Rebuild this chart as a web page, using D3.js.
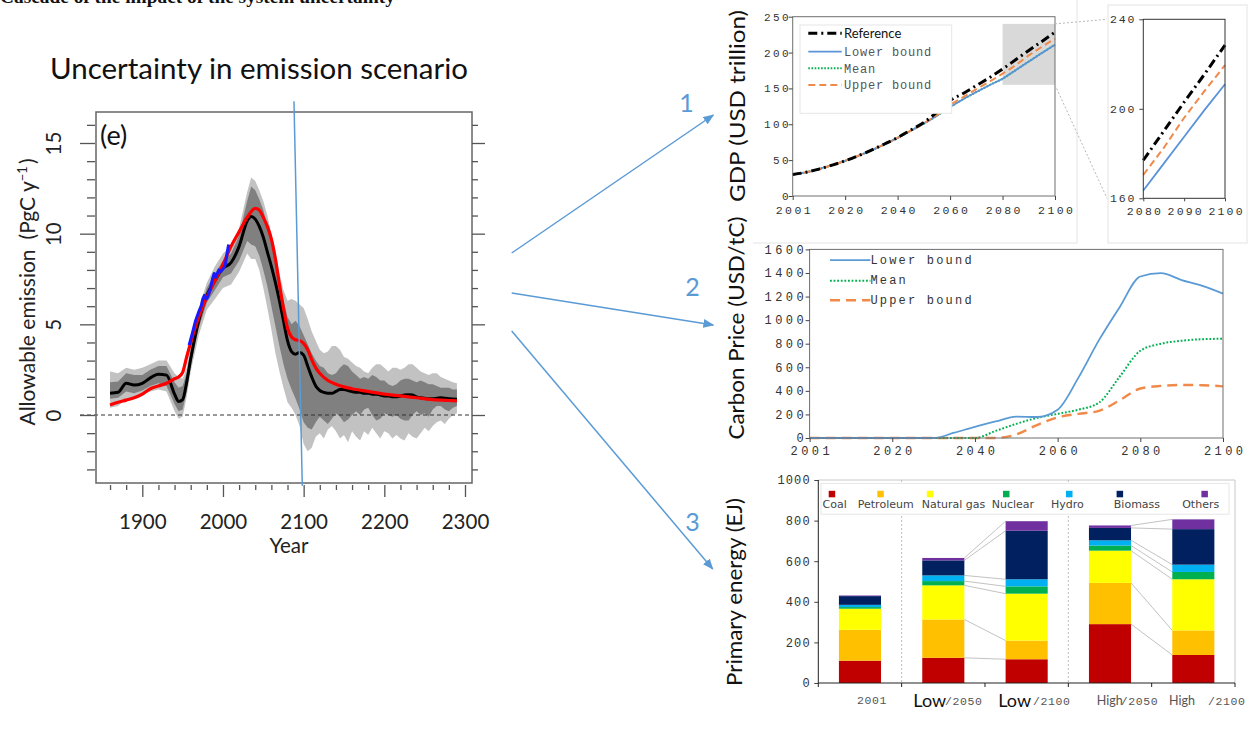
<!DOCTYPE html>
<html>
<head>
<meta charset="utf-8">
<title>Uncertainty in emission scenario</title>
<script src="https://cdn.jsdelivr.net/npm/d3@7/dist/d3.min.js"></script>
<style>
  html, body { margin: 0; padding: 0; background: #fff; }
  svg { display: block; }
</style>
</head>
<body>
<svg id="fig" width="1256" height="740" xmlns="http://www.w3.org/2000/svg"></svg>
<script>
// ---------- Panel (e): allowable emission (PgC/yr) ----------
const bandYears = [1860,1870,1880,1890,1900,1910,1920,1930,1940,1945,1950,1955,1960,1970,1980,1990,2000,2010,2020,2030,
  2035,2040,2045,2050,2055,2060,2065,2070,2075,2080,2085,2090,2095,2100,2105,2110,2115,2120,2125,2130,
  2135,2140,2145,2150,2155,2160,2165,2170,2175,2180,2185,2190,2195,2200,2205,2210,2215,2220,2225,2230,
  2235,2240,2245,2250,2255,2260,2265,2270,2275,2280,2285,2290];
const lightLo = [0.4,0.5,0.9,0.9,1.1,1.3,1.4,1.3,0.2,-0.2,-0.1,1.0,2.4,4.4,5.8,6.4,7.0,7.2,7.9,8.9,
  8.6,8.6,8.0,7.0,5.9,4.7,3.4,2.4,1.5,0.7,0.4,0.0,-0.6,-1.6,-2.0,-1.8,-1.2,-1.0,-1.3,-0.8,
  -0.6,-0.9,-1.3,-1.1,-1.5,-0.9,-1.2,-1.4,-0.9,-1.1,-0.7,-1.0,-1.3,-0.9,-1.0,-1.3,-1.1,-1.3,-1.4,-1.0,
  -1.2,-1.3,-1.0,-0.7,-0.9,-0.6,-0.4,-0.3,-0.5,-0.2,0.0,0.1];
const darkLo = [0.9,0.95,1.3,1.2,1.35,1.6,1.75,1.6,0.6,0.2,0.3,1.3,2.7,4.8,6.2,6.9,7.6,7.8,8.5,9.6,
  9.4,9.3,8.8,8.0,7.1,6.0,4.9,3.8,2.8,2.0,1.4,0.9,0.3,-0.4,-0.7,-0.8,-0.4,-0.1,-0.3,-0.5,
  -0.2,0.1,-0.1,-0.4,-0.25,0.0,0.2,0.0,0.3,0.4,0.0,-0.3,-0.2,0.1,0.0,-0.1,0.0,-0.2,-0.3,-0.3,
  0.0,0.2,0.0,0.1,-0.1,0.3,0.5,0.5,0.3,0.2,0.4,0.5];
const darkHi = [1.8,1.85,2.3,2.2,2.2,2.5,2.7,2.7,1.8,1.5,1.6,2.3,3.5,5.6,7.0,7.8,8.5,8.9,9.9,11.8,
  12.6,12.4,11.9,11.3,10.4,9.4,8.6,7.4,6.3,5.4,5.0,5.2,4.9,4.4,3.9,3.4,3.0,2.7,2.6,2.3,
  2.2,2.3,2.6,2.8,2.7,2.4,2.2,2.0,2.1,2.0,2.2,2.1,1.9,1.9,1.7,1.6,1.7,1.9,2.0,2.0,
  1.9,1.8,1.9,1.8,1.7,1.7,1.6,1.5,1.5,1.5,1.4,1.4];
const lightHi = [2.4,2.3,2.6,2.5,2.6,2.8,3.0,3.0,2.3,2.1,2.0,2.6,3.8,5.9,7.3,8.2,8.9,9.3,10.3,12.3,
  13.1,12.9,12.4,11.8,11.0,10.0,9.1,7.8,6.9,6.3,6.4,6.3,6.1,5.9,5.3,4.6,4.1,3.6,3.4,3.5,
  3.8,3.8,3.6,3.2,3.1,2.9,2.7,2.6,2.4,2.3,2.6,2.8,2.8,2.6,2.4,2.6,2.6,2.5,2.6,2.8,
  2.8,2.6,2.4,2.3,2.2,2.3,2.3,2.1,2.0,1.9,1.8,1.75];
const meanEmission = [1.2,1.25,1.75,1.65,1.75,2.05,2.25,2.2,1.15,0.75,0.85,1.8,3.1,5.2,6.6,7.4,8.1,8.4,9.3,10.7,
  10.95,10.8,10.4,9.8,9.0,8.2,7.3,6.3,5.2,4.1,3.5,3.35,3.45,3.3,2.7,2.1,1.6,1.35,1.25,1.2,
  1.2,1.3,1.4,1.4,1.35,1.3,1.25,1.25,1.2,1.2,1.15,1.15,1.1,1.05,1.05,1.0,1.0,1.05,1.1,1.12,
  1.1,1.0,0.95,0.92,0.9,0.9,0.92,0.95,0.92,0.9,0.88,0.87];
const scenarioYears = [1860,1870,1880,1890,1900,1910,1920,1930,1940,1945,1950,1955,1960,1970,1980,1990,2000,2010,2020,2030,
  2040,2045,2050,2055,2060,2065,2070,2075,2080,2085,2090,2095,2100,2105,2110,2115,2120,2130,2140,2150,
  2160,2180,2200,2220,2240,2260,2280,2290];
const scenarioEmission = [0.55,0.7,0.82,0.95,1.15,1.45,1.6,1.75,2.0,2.1,2.35,3.2,4.0,5.4,6.5,7.4,8.3,9.3,10.1,10.9,
  11.4,11.3,10.9,10.4,9.7,8.6,7.2,5.9,4.8,4.3,4.15,4.1,3.95,3.6,3.05,2.6,2.3,1.9,1.7,1.55,
  1.45,1.3,1.15,1.05,0.95,0.85,0.8,0.78];
const observedYears = [1958,1962,1966,1970,1973,1975,1977,1979,1981,1984,1987,1989,1991,1993,1995,1997,1999,2001,2003,2005,2007];
const observedEmission = [3.85,4.5,5.2,5.7,6.0,6.4,6.6,6.4,6.5,6.9,7.5,7.8,7.6,7.8,8.0,7.9,8.0,8.1,8.3,8.9,9.4];
const emisXTicks = [1900, 2000, 2100, 2200, 2300];
const emisYTicks = [0, 5, 10, 15];
const guideLine = [[2088, 17.3], [2098.3, -3.9]];

// ---------- Panel 1: GDP (USD trillion) ----------
const periods = ["2001","2005","2010","2015","2020","2025","2030","2035","2040","2045","2050",
  "2055","2060","2065","2070","2075","2080","2085","2090","2095","2100"];
const periodLabels = ["2001","2020","2040","2060","2080","2100"];
const gdpReference = [30,33,37.5,43,49,56,64,72.5,81.5,92,102.5,117,133,143,154,165,177,190,203,215.5,228.5];
const gdpLower     = [30,33,37.5,43,49,56,63.5,72,81,91,101,112,124,135,145,154.5,163.5,175.5,187.5,199.5,211];
const gdpMean      = [30,33,37.5,43,49,56,63.5,72,81,91,101,112,124,135,145,154.5,163.5,175.5,187.5,199.5,211];
const gdpUpper     = [30,33,37.5,43,49,56,63.5,72,81,91,101.5,113,127,138,149,159.5,170.5,182.5,196,208,219.5];
const gdpTicks = [0, 50, 100, 150, 200, 250];
const zoomPeriods = ["2080","2085","2090","2095","2100"];
const zoomLabels = ["2080","2090","2100"];
const zoomWindow = [155, 240];
const zoomTicks = [160, 200, 240];

// ---------- Panel 2: carbon price (USD/tC) ----------
const carbonLower = [0,0,0,0,0,0,0,45,95,140,182,178,240,510,830,1110,1370,1398,1340,1290,1225];
const carbonMean  = [0,0,0,0,0,0,0,0,0,60,120,170,205,240,300,520,740,800,825,838,842];
const carbonUpper = [0,0,0,0,0,0,0,0,0,0,30,110,175,205,230,320,420,442,450,448,438];
const carbonTicks = [0,200,400,600,800,1000,1200,1400,1600];

// ---------- Panel 3: primary energy (EJ) ----------
const energyCases = ["2001","Low/2050","Low/2100","High/2050","High/2100"];
const fuels = ["Coal","Petroleum","Natural gas","Nuclear","Hydro","Biomass","Others"];
const fuelColors = ["#c00000","#ffc000","#ffff00","#00b050","#00b0f0","#002060","#7030a0"];
const coal       = [110,124,117,290,138];
const petroleum  = [152,189,92,203,121];
const naturalGas = [104,168,231,159,252];
const nuclear    = [8,21,36,25,36];
const hydro      = [11,28,35,26,36];
const biomass    = [43,74,239,61,175];
const others     = [3,12,47,12,48];
const energyTicks = [0,200,400,600,800,1000];
const caseMain   = ["","Low","Low","High","High"];
const caseSuffix = ["2001","/2050","/2100","/2050","/2100"];

// ---------- drawing ----------
const svg = d3.select("#fig");
const MONO = "'Liberation Mono','DejaVu Sans Mono',monospace";
const SANS = "Lato,'Open Sans','Liberation Sans',sans-serif";
const SERIF = "'Liberation Serif','DejaVu Serif',serif";
const ACCENT = "#5b9bd5";

// heading line running off the top edge
svg.append("text").attr("x", 0).attr("y", 3)
  .attr("font-family", SERIF).attr("font-weight", "bold").attr("font-size", 19).attr("fill", "#111")
  .attr("textLength", 395).attr("lengthAdjust", "spacingAndGlyphs")
  .text("Cascade of the impact of the system uncertainty");

svg.append("text").attr("x", 50).attr("y", 78.5)
  .attr("font-family", SANS).attr("font-size", 29).attr("fill", "#111")
  .attr("textLength", 418).attr("lengthAdjust", "spacingAndGlyphs")
  .text("Uncertainty in emission scenario");

// ===== panel (e) =====
const ex = d3.scaleLinear().domain([1900, 2300]).range([142.3, 465]);
const ey = d3.scaleLinear().domain([0, 15]).range([415, 143]);
const pe = svg.append("g");

const bandRows = bandYears.map((yr, i) => ({ yr, ll: lightLo[i], dl: darkLo[i], dh: darkHi[i], lh: lightHi[i] }));
pe.append("path").datum(bandRows).attr("fill", "#c2c2c2")
  .attr("d", d3.area().x(d => ex(d.yr)).y0(d => ey(d.ll)).y1(d => ey(d.lh)));
pe.append("path").datum(bandRows).attr("fill", "#808080")
  .attr("d", d3.area().x(d => ex(d.yr)).y0(d => ey(d.dl)).y1(d => ey(d.dh)));

pe.append("line").attr("x1", 80).attr("x2", 472).attr("y1", ey(0)).attr("y2", ey(0))
  .attr("stroke", "#333").attr("stroke-width", 1).attr("stroke-dasharray", "4,3");

const eLine = d3.line().x(d => ex(d[0])).y(d => ey(d[1])).curve(d3.curveMonotoneX);
pe.append("path").datum(bandYears.map((y, i) => [y, meanEmission[i]]))
  .attr("d", eLine).attr("fill", "none").attr("stroke", "#000").attr("stroke-width", 3);
pe.append("path").datum(scenarioYears.map((y, i) => [y, scenarioEmission[i]]))
  .attr("d", eLine).attr("fill", "none").attr("stroke", "#ff0000").attr("stroke-width", 3.2);
pe.append("path").datum(observedYears.map((y, i) => [y, observedEmission[i]]))
  .attr("d", d3.line().x(d => ex(d[0])).y(d => ey(d[1]))).attr("fill", "none")
  .attr("stroke", "#1a1aff").attr("stroke-width", 3).attr("stroke-linejoin", "round");

pe.append("rect").attr("x", 96).attr("y", 112).attr("width", 376).attr("height", 371)
  .attr("fill", "none").attr("stroke", "#666").attr("stroke-width", 1.5);

const rTicks = g => {
  g.select(".domain").remove();
  g.selectAll(".tick line").attr("stroke", "#555").attr("stroke-width", 1.3);
  g.selectAll("text").attr("font-family", SANS).attr("font-size", 20.5).attr("fill", "#222");
};
const minorYears = d3.range(1860, 2301, 20).filter(y => y % 100 !== 0);
pe.append("g").attr("transform", "translate(0,485)")
  .call(d3.axisBottom(ex).tickValues(minorYears).tickSize(5).tickFormat("")).call(rTicks);
pe.append("g").attr("transform", "translate(0,485)")
  .call(d3.axisBottom(ex).tickValues(emisXTicks).tickSize(12).tickPadding(17).tickFormat(d3.format("d"))).call(rTicks);

const minorVals = d3.range(-3, 17).filter(v => v % 5 !== 0);
pe.append("g").attr("transform", "translate(95,0)")
  .call(d3.axisLeft(ey).tickValues(minorVals).tickSize(8).tickFormat("")).call(rTicks);
pe.append("g").attr("transform", "translate(95,0)")
  .call(d3.axisLeft(ey).tickValues(emisYTicks).tickSize(15).tickFormat(d3.format("d"))).call(rTicks)
  .call(g => g.selectAll("text").attr("x", 0).attr("dy", null).attr("text-anchor", "middle")
    .attr("transform", "translate(-34,0) rotate(-90)"));
pe.append("g").attr("transform", "translate(472,0)")
  .call(d3.axisRight(ey).tickValues(minorVals).tickSize(6).tickFormat("")).call(rTicks);
pe.append("g").attr("transform", "translate(472,0)")
  .call(d3.axisRight(ey).tickValues(emisYTicks).tickSize(13).tickFormat("")).call(rTicks);

pe.append("text").attr("x", 100).attr("y", 145).attr("font-family", SANS).attr("font-size", 27)
  .attr("fill", "#111").text("(e)");
pe.append("text").attr("x", 289).attr("y", 553).attr("text-anchor", "middle")
  .attr("font-family", SANS).attr("font-size", 20.5).attr("fill", "#222").text("Year");
const yt = pe.append("text").attr("transform", "translate(35,292) rotate(-90)").attr("text-anchor", "middle")
  .attr("font-family", SANS).attr("font-size", 21).attr("fill", "#222");
yt.append("tspan").text("Allowable emission");
yt.append("tspan").attr("dx", 10).text("(PgC  y");
yt.append("tspan").attr("dy", -8).attr("font-size", 13).text("\u22121");
yt.append("tspan").attr("dy", 8).attr("dx", 2).text(")");

pe.append("line")
  .attr("x1", ex(guideLine[0][0])).attr("y1", ey(guideLine[0][1]))
  .attr("x2", ex(guideLine[1][0])).attr("y2", ey(guideLine[1][1]))
  .attr("stroke", ACCENT).attr("stroke-width", 1.5);

// ===== arrows to the three impact panels =====
const defs = svg.append("defs");
defs.append("marker").attr("id", "head").attr("viewBox", "0 0 10 8").attr("refX", 9).attr("refY", 4)
  .attr("markerWidth", 11).attr("markerHeight", 9).attr("markerUnits", "userSpaceOnUse").attr("orient", "auto")
  .append("path").attr("d", "M0,0 L10,4 L0,8 Z").attr("fill", ACCENT);
const arrows = [
  { from: [511.7, 253], to: [713.3, 115], label: "1", at: [686.5, 112] },
  { from: [511.7, 293], to: [713.3, 325], label: "2", at: [692.5, 296] },
  { from: [511.7, 331], to: [712.7, 569], label: "3", at: [692.5, 531] }
];
arrows.forEach(a => {
  svg.append("line").attr("x1", a.from[0]).attr("y1", a.from[1]).attr("x2", a.to[0]).attr("y2", a.to[1])
    .attr("stroke", ACCENT).attr("stroke-width", 1.5).attr("marker-end", "url(#head)");
  svg.append("text").attr("x", a.at[0]).attr("y", a.at[1]).attr("text-anchor", "middle")
    .attr("font-family", SANS).attr("font-size", 25).attr("fill", ACCENT).text(a.label);
});

// shared helpers for the spreadsheet-style panels
const monoTicks = (size, spacing, anchor) => g => {
  g.select(".domain").remove();
  g.selectAll(".tick line").attr("stroke", "#444");
  g.selectAll("text").attr("font-family", MONO).attr("font-size", size).attr("fill", "#333")
    .attr("letter-spacing", spacing).attr("dx", anchor === "end" ? spacing : spacing / 2);
};
const titleV = (x, y, len, txt) => svg.append("text").attr("transform", `translate(${x},${y}) rotate(-90)`)
  .attr("text-anchor", "middle").attr("font-family", SANS).attr("font-size", 21).attr("fill", "#111")
  .attr("textLength", len).attr("lengthAdjust", "spacingAndGlyphs").text(txt);

const seriesStyles = {
  reference: { stroke: "#000", width: 3, dash: "9,4,2,4" },
  lower: { stroke: "#5b93d9", width: 1.8, dash: null },
  mean: { stroke: "#00b050", width: 2, dash: "1.6,1.6" },
  upper: { stroke: "#f08a4b", width: 2, dash: "7,4" }
};
const styled = (sel, s) => sel.attr("fill", "none").attr("stroke", s.stroke).attr("stroke-width", s.width)
  .attr("stroke-dasharray", s.dash);
const intFmt = d3.format("d");

// ===== panel frames =====
svg.append("path").attr("d", "M753,243 H1077 V0").attr("fill", "none").attr("stroke", "#e4e4e4");
svg.append("rect").attr("x", 1108).attr("y", 5).attr("width", 139).attr("height", 238)
  .attr("fill", "none").attr("stroke", "#e4e4e4");

// ===== panel 1: GDP =====
const gx = d3.scalePoint().domain(periods).range([792.7, 1055]);
const gy = d3.scaleLinear().domain([0, 250]).range([196, 16.7]);
const pg = svg.append("g");
pg.append("rect").attr("x", gx(zoomPeriods[0])).attr("y", gy(zoomWindow[1]))
  .attr("width", gx(zoomPeriods[zoomPeriods.length - 1]) - gx(zoomPeriods[0]))
  .attr("height", gy(zoomWindow[0]) - gy(zoomWindow[1])).attr("fill", "#d9d9d9");
const gLine = d3.line().x(d => gx(d[0])).y(d => gy(d[1])).curve(d3.curveMonotoneX);
const rowsOf = (keys, arr) => keys.map((p, i) => [p, arr[i]]);
styled(pg.append("path").datum(rowsOf(periods, gdpMean)).attr("d", gLine), seriesStyles.mean);
styled(pg.append("path").datum(rowsOf(periods, gdpLower)).attr("d", gLine), seriesStyles.lower);
styled(pg.append("path").datum(rowsOf(periods, gdpUpper)).attr("d", gLine), seriesStyles.upper);
styled(pg.append("path").datum(rowsOf(periods, gdpReference)).attr("d", gLine), seriesStyles.reference);
pg.append("rect").attr("x", 792.7).attr("y", 16.7).attr("width", 262.3).attr("height", 179.3)
  .attr("fill", "none").attr("stroke", "#6f6f6f");
pg.append("g").attr("transform", "translate(792.7,0)")
  .call(d3.axisLeft(gy).tickValues(gdpTicks).tickSize(4).tickPadding(0).tickFormat(intFmt)).call(monoTicks(11, 2.4, "end"));
pg.append("g").attr("transform", "translate(0,196)")
  .call(d3.axisBottom(gx).tickValues(periodLabels).tickSize(4).tickPadding(5.5)).call(monoTicks(11.5, 2.4, "middle"));
titleV(745, 106, 192, "GDP (USD trillion)");

// legend
pg.append("rect").attr("x", 800).attr("y", 25).attr("width", 151.7).attr("height", 88.3)
  .attr("fill", "#fff").attr("stroke", "#e6e6e6");
const gdpLegend = [
  { name: "Reference", s: seriesStyles.reference, y: 33.3, sans: true },
  { name: "Lower bound", s: seriesStyles.lower, y: 51.7 },
  { name: "Mean", s: seriesStyles.mean, y: 68.3 },
  { name: "Upper bound", s: seriesStyles.upper, y: 85 }
];
gdpLegend.forEach(l => {
  styled(pg.append("line").attr("x1", 808.3).attr("x2", 841.7).attr("y1", l.y).attr("y2", l.y), l.s);
  pg.append("text").attr("x", 844).attr("y", l.y + 4.2)
    .attr("font-family", l.sans ? SANS : MONO).attr("font-size", l.sans ? 13 : 12)
    .attr("letter-spacing", l.sans ? 0 : 0.8).attr("fill", l.sans ? "#111" : "#555").text(l.name);
});

// zoom-in of 2080-2100
const zx = d3.scalePoint().domain(zoomPeriods).range([1143.3, 1225]);
const zy = d3.scaleLinear().domain([160, 240]).range([198.3, 19.3]);
const pz = svg.append("g");
const zLine = d3.line().x(d => zx(d[0])).y(d => zy(d[1]));
const zRows = arr => rowsOf(periods, arr).filter(d => zoomPeriods.includes(d[0]));
styled(pz.append("path").datum(zRows(gdpLower)).attr("d", zLine), seriesStyles.lower);
styled(pz.append("path").datum(zRows(gdpUpper)).attr("d", zLine), seriesStyles.upper);
styled(pz.append("path").datum(zRows(gdpReference)).attr("d", zLine), seriesStyles.reference);
pz.append("rect").attr("x", 1143.3).attr("y", 19.3).attr("width", 81.7).attr("height", 179)
  .attr("fill", "none").attr("stroke", "#333");
pz.append("g").attr("transform", "translate(1143.3,0)")
  .call(d3.axisLeft(zy).tickValues(zoomTicks).tickSize(4).tickPadding(5)).call(monoTicks(11.5, 1.8, "end"));
pz.append("g").attr("transform", "translate(0,198.3)")
  .call(d3.axisBottom(zx).tickValues(zoomLabels).tickSize(3).tickPadding(5.5)).call(monoTicks(11.5, 2.2, "middle"));
// connectors from the shaded window to the zoom panel
[[zoomWindow[1], 240], [zoomWindow[0], 160]].forEach(([gv, zv]) => {
  svg.append("line").attr("x1", gx(zoomPeriods[zoomPeriods.length - 1])).attr("y1", gy(gv))
    .attr("x2", 1107).attr("y2", zy(zv)).attr("stroke", "#b8b8b8").attr("stroke-dasharray", "2,2");
});

// ===== panel 2: carbon price =====
const cx = d3.scalePoint().domain(periods).range([809.6, 1223]);
const cy = d3.scaleLinear().domain([0, 1600]).range([438, 249.4]);
const pc = svg.append("g");
const cLine = d3.line().x(d => cx(d[0])).y(d => cy(d[1])).curve(d3.curveMonotoneX);
const carbonStyles = {
  lower: { stroke: "#5b9bd5", width: 1.8, dash: null },
  mean: { stroke: "#00b050", width: 2, dash: "1.8,1.8" },
  upper: { stroke: "#f08a4b", width: 2.4, dash: "10,6" }
};
styled(pc.append("path").datum(rowsOf(periods, carbonUpper)).attr("d", cLine), carbonStyles.upper);
styled(pc.append("path").datum(rowsOf(periods, carbonMean)).attr("d", cLine), carbonStyles.mean);
styled(pc.append("path").datum(rowsOf(periods, carbonLower)).attr("d", cLine), carbonStyles.lower);
pc.append("rect").attr("x", 809.6).attr("y", 249.4).attr("width", 413.4).attr("height", 188.6)
  .attr("fill", "none").attr("stroke", "#6f6f6f");
pc.append("g").attr("transform", "translate(809.6,0)")
  .call(d3.axisLeft(cy).tickValues(carbonTicks).tickSize(4).tickPadding(2).tickFormat(intFmt)).call(monoTicks(12, 3.4, "end"));
pc.append("g").attr("transform", "translate(0,438)")
  .call(d3.axisBottom(cx).tickValues(periodLabels).tickSize(4).tickPadding(4.3)).call(monoTicks(12, 3.4, "middle"));
titleV(744, 328, 223, "Carbon Price (USD/tC)");
const carbonLegend = [
  { name: "Lower bound", s: carbonStyles.lower, y: 260.1 },
  { name: "Mean", s: carbonStyles.mean, y: 280.8 },
  { name: "Upper bound", s: carbonStyles.upper, y: 300.2 }
];
carbonLegend.forEach(l => {
  styled(pc.append("line").attr("x1", 830).attr("x2", 870.4).attr("y1", l.y).attr("y2", l.y), l.s);
  pc.append("text").attr("x", 870.4).attr("y", l.y + 3.5).attr("font-family", MONO).attr("font-size", 12)
    .attr("letter-spacing", 2.2).attr("fill", "#333").text(l.name);
});

// ===== panel 3: primary energy =====
const bx = d3.scaleBand().domain(energyCases).range([818.3, 1235]);
const by = d3.scaleLinear().domain([0, 1000]).range([683, 480]);
const pb = svg.append("g");
const energyRows = energyCases.map((c, i) => ({
  case: c, "Coal": coal[i], "Petroleum": petroleum[i], "Natural gas": naturalGas[i],
  "Nuclear": nuclear[i], "Hydro": hydro[i], "Biomass": biomass[i], "Others": others[i]
}));
const stacked = d3.stack().keys(fuels)(energyRows);
const barW = bx.bandwidth() * 0.505;
const barOff = (bx.bandwidth() - barW) / 2;

// separators between the base year, low and high cases
[energyCases[1], energyCases[3]].forEach(c => {
  pb.append("line").attr("x1", bx(c)).attr("x2", bx(c)).attr("y1", by(1000)).attr("y2", by(0))
    .attr("stroke", "#bdbdbd").attr("stroke-dasharray", "2,2");
});
// links between 2050 and 2100 stacks
[[1, 2], [3, 4]].forEach(([a, b]) => {
  stacked.forEach(layer => {
    pb.append("line")
      .attr("x1", bx(energyCases[a]) + barOff + barW).attr("y1", by(layer[a][1]))
      .attr("x2", bx(energyCases[b]) + barOff).attr("y2", by(layer[b][1]))
      .attr("stroke", "#b3b3b3").attr("stroke-width", 0.8);
  });
});
pb.selectAll("g.layer").data(stacked).join("g").attr("class", "layer")
  .attr("fill", (d, i) => fuelColors[i])
  .selectAll("rect").data(d => d).join("rect")
  .attr("x", d => bx(d.data.case) + barOff).attr("width", barW)
  .attr("y", d => by(d[1])).attr("height", d => by(d[0]) - by(d[1]));

pb.append("path").attr("d", `M${818.3},${by(1000)} H1235 V${by(0)}`).attr("fill", "none").attr("stroke", "#c8c8c8");
pb.append("g").attr("transform", "translate(818.3,0)")
  .call(d3.axisLeft(by).tickValues(energyTicks).tickSize(4).tickPadding(4.7).tickFormat(intFmt)).call(monoTicks(12, 1.1, "end"))
  .call(g => g.append("line").attr("y1", by(0)).attr("y2", by(1000)).attr("stroke", "#222"));
pb.append("line").attr("x1", 818.3).attr("x2", 1235).attr("y1", by(0)).attr("y2", by(0)).attr("stroke", "#222");
pb.selectAll("line.ctick").data(energyCases.map(c => bx(c)).concat([bx.range()[1]])).join("line")
  .attr("class", "ctick").attr("x1", d => d).attr("x2", d => d).attr("y1", by(0)).attr("y2", by(0) + 4)
  .attr("stroke", "#222");

// category labels
const labelLayout = [[null, 38.7], [11.7, 43.4], [13.3, 48], [28.4, 52.4], [17.3, 56.3]];
energyCases.forEach((c, i) => {
  const x0 = bx(c);
  const [mOff, sOff] = labelLayout[i];
  if (caseMain[i]) {
    const low = caseMain[i] === "Low";
    pb.append("text").attr("x", x0 + mOff).attr("y", low ? 707 : 705)
      .attr("font-family", SANS).attr("font-size", low ? 18 : 12.5).attr("fill", low ? "#111" : "#555")
      .text(caseMain[i]);
  }
  pb.append("text").attr("x", x0 + sOff).attr("y", i === 0 ? 704 : 705)
    .attr("font-family", MONO).attr("font-size", 11.5).attr("letter-spacing", 0.6).attr("fill", "#555")
    .text(caseSuffix[i]);
});
titleV(742, 592, 188, "Primary energy (EJ)");

// legend
pb.append("rect").attr("x", 821).attr("y", 483.4).attr("width", 408).attr("height", 30.8)
  .attr("fill", "#fff").attr("stroke", "#e6e6e6");
const legendSwatchX = [828.7, 877.3, 926.8, 1003, 1066, 1116.6, 1201.4];
const legendLabelX  = [822.6, 857.8, 921.7, 991.8, 1051, 1113.8, 1182.2];
fuels.forEach((f, i) => {
  pb.append("rect").attr("x", legendSwatchX[i]).attr("y", 490.8).attr("width", 6.5).attr("height", 6.5)
    .attr("fill", fuelColors[i]);
  pb.append("text").attr("x", legendLabelX[i]).attr("y", 508).attr("font-family", "'DejaVu Sans',sans-serif")
    .attr("font-size", 11).attr("fill", "#444").text(f);
});
</script>
</body>
</html>
